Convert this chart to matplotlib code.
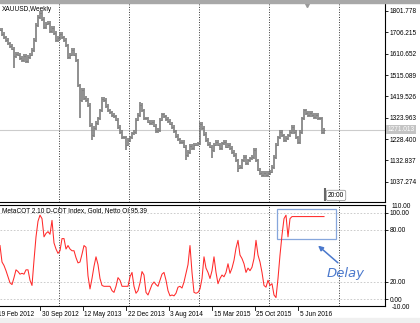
import numpy as np
import matplotlib
matplotlib.use('Agg')
import matplotlib.pyplot as plt
import matplotlib.transforms as mtransforms
from matplotlib.patches import Rectangle

# weekly XAUUSD closes, one sample every 2 chart pixels
close = [1717, 1699, 1685, 1672, 1658, 1645, 1632, 1600, 1609, 1605,
         1591, 1582, 1600, 1578, 1596, 1605, 1627, 1672, 1739, 1775,
         1793, 1766, 1730, 1744, 1748, 1712, 1726, 1703, 1672, 1681,
         1699, 1685, 1672, 1649, 1596, 1605, 1627, 1605, 1582, 1470,
         1403, 1448, 1412, 1403, 1381, 1291, 1246, 1278, 1300, 1322,
         1358, 1408, 1403, 1376, 1358, 1349, 1336, 1331, 1314, 1282,
         1260, 1237, 1237, 1202, 1224, 1237, 1255, 1260, 1314, 1336,
         1381, 1358, 1322, 1322, 1305, 1300, 1305, 1287, 1264, 1269,
         1314, 1340, 1331, 1318, 1309, 1296, 1282, 1264, 1242, 1228,
         1215, 1215, 1193, 1157, 1170, 1197, 1188, 1202, 1202, 1210,
         1296, 1278, 1251, 1224, 1206, 1193, 1179, 1202, 1215, 1202,
         1188, 1210, 1215, 1193, 1202, 1188, 1170, 1157, 1134, 1099,
         1103, 1134, 1148, 1121, 1134, 1143, 1148, 1179, 1134, 1090,
         1076, 1067, 1076, 1067, 1076, 1081, 1103, 1148, 1202, 1237,
         1260, 1246, 1224, 1233, 1246, 1260, 1282, 1260, 1237, 1215,
         1260, 1322, 1358, 1345, 1336, 1345, 1336, 1327, 1336, 1322,
         1322, 1260, 1269]
# long wicks (sample index, extreme price)
spike_idx = [7, 40, 46, 63, 70, 93, 106, 119]
spike_val = [1546, 1322, 1224, 1179, 1395, 1134, 1143, 1081]

# MetaCOT D-COT index, same sampling
cot = [62, 43, 39, 33, 26, 19, 17, 25, 34, 32,
       29, 30, 29, 34, 34, 22, 16, 45, 72, 90,
       97, 93, 72, 76, 78, 75, 91, 65, 58, 53,
       56, 70, 70, 58, 62, 58, 56, 56, 48, 42,
       43, 52, 62, 60, 27, 12, 24, 38, 49, 40,
       24, 16, 15, 15, 15, 15, 10, 8, 15, 25,
       22, 15, 15, 15, 15, 26, 31, 15, 7, 10,
       19, 32, 28, 8, 5, 11, 17, 20, 17, 15,
       22, 29, 31, 22, 10, 4, 5, 4, 7, 14,
       15, 13, 20, 30, 40, 62, 31, 8, 7, 8,
       12, 24, 49, 36, 31, 24, 33, 49, 31, 18,
       24, 28, 26, 31, 41, 30, 36, 45, 59, 68,
       51, 47, 41, 31, 36, 33, 37, 47, 68, 51,
       43, 31, 16, 14, 22, 16, 18, 5, 2, 24,
       51, 74, 93, 97, 72, 93] + [95.39] * 17

price_ticks = [1801.778, 1706.215, 1610.652, 1515.089, 1419.526,
               1323.963, 1228.400, 1132.837, 1037.274]
last_price = 1271.013
cot_levels = [100, 80, 20, 0]
date_labels = ['19 Feb 2012', '30 Sep 2012', '12 May 2013', '22 Dec 2013',
               '3 Aug 2014', '15 Mar 2015', '25 Oct 2015', '5 Jun 2016']
date_pos = [-3, 40, 83, 126, 169, 212, 255, 298]
grid_pos = [59, 129, 199, 269, 339]

plt.rcParams['font.family'] = ['Liberation Sans', 'DejaVu Sans']
fs = 4.7

fig = plt.figure(figsize=(4.2, 3.23), dpi=100)
fig.patches.append(Rectangle((0, 1 - 3 / 323), 1, 3 / 323, transform=fig.transFigure,
                             color='#a8a8a8', zorder=0))
fig.patches.append(Rectangle((0, 0), 1, 5 / 323, transform=fig.transFigure,
                             color='#f0f0f0', zorder=0))

ax1 = fig.add_axes([0, 121 / 323, 385 / 420, 199 / 323])
ax2 = fig.add_axes([0, 17 / 323, 385 / 420, 101.5 / 323])

x = np.arange(len(close)) * 2
c = np.array(close, dtype=float)
o = np.concatenate([[c[0]], c[:-1]])
lo = np.minimum(o, c) - 7
hi = np.maximum(o, c) + 7
for i, v in zip(spike_idx, spike_val):
    lo[i] = min(lo[i], v)
    hi[i] = max(hi[i], v)
ax1.vlines(x, lo, hi, color='#727272', lw=1.1, zorder=3)
ax1.hlines(c, x, x + 1.2, color='#727272', lw=0.7, zorder=3)

ax1.axhline(last_price, color='#cccccc', lw=0.8, zorder=1)
for g in grid_pos:
    ax1.axvline(g, color='#333333', lw=0.7, ls=(0, (1, 1.6)), zorder=2)
    ax2.axvline(g, color='#333333', lw=0.7, ls=(0, (1, 1.6)), zorder=2)

ax1.set_xlim(0, 385)
ax1.set_ylim(946.3, 1837.6)
ax1.yaxis.tick_right()
ax1.set_yticks(price_ticks)
ax1.set_yticklabels(['%.3f' % p for p in price_ticks])
ax1.set_xticks([])
ax1.tick_params(axis='y', labelsize=fs, length=2.5, width=0.6, pad=1)
ax1.spines['left'].set_visible(False)
ax1.spines['top'].set_visible(False)

tr1 = mtransforms.blended_transform_factory(ax1.transAxes, ax1.transData)
ax1.text(1.006, last_price, '%.3f' % last_price, transform=tr1, fontsize=fs,
         color='white', va='center', ha='left',
         bbox=dict(boxstyle='square,pad=0.2', fc='#c4c4c4', ec='none'))
ax1.text(0.004, 0.985, 'XAUUSD,Weekly', transform=ax1.transAxes, fontsize=fs,
         va='top', ha='left')
ax1.text(336, 976, '20:00', fontsize=fs, ha='center', va='center', zorder=5,
         bbox=dict(boxstyle='round,pad=0.25', fc='white', ec='#888888', lw=0.5))
ax1.plot([325, 325], [950, 1010], color='#666666', lw=1.5, solid_capstyle='butt', zorder=6)
ax1.plot(307, 1829, marker='v', color='#999999', ms=3, clip_on=False)

# D-COT panel
ax2.plot(x, cot, color='#ff2a2a', lw=0.75, zorder=4)
for lv in cot_levels:
    ax2.axhline(lv, color='#c4c4c4', lw=0.6, ls=(0, (2, 2)), zorder=1)
ax2.set_xlim(0, 385)
ax2.set_ylim(-7.7, 109.3)
ax2.yaxis.tick_right()
ax2.set_yticks(cot_levels)
ax2.set_yticklabels(['%.2f' % v for v in cot_levels])
ax2.tick_params(axis='y', labelsize=fs, length=2.5, width=0.6, pad=1)
ax2.set_xticks([])
ax2.spines['left'].set_visible(False)

tr2 = mtransforms.blended_transform_factory(ax2.transAxes, ax2.transData)
ax2.text(1.018, 106.8, '110.00', transform=tr2, fontsize=fs, va='center', ha='left')
ax2.text(1.018, -9.8, '-10.00', transform=tr2, fontsize=fs, va='center', ha='left')
ax2.text(0.004, 0.975, 'MetaCOT 2.10 D-COT Index, Gold, Netto OI 95.39',
         transform=ax2.transAxes, fontsize=fs, va='top', ha='left')

trx = mtransforms.blended_transform_factory(ax2.transData, ax2.transAxes)
for xp, lab in zip(date_pos, date_labels):
    ax2.plot([xp, xp], [0, -0.04], transform=trx, color='black', lw=0.6, clip_on=False)
    ax2.text(xp + 1.5, -0.045, lab, transform=trx, fontsize=fs, ha='left', va='top',
             clip_on=False)

ax2.add_patch(Rectangle((277, 69.5), 59, 34.5, fill=False, ec='#86a6dc', lw=0.9, zorder=3))
ax2.annotate('', xy=(316, 64), xytext=(340, 40),
             arrowprops=dict(arrowstyle='-|>', color='#4a78cc', lw=1.1, mutation_scale=7))
ax2.text(346, 30, 'Delay', fontsize=9.5, style='italic', color='#4a78cc',
         ha='center', va='center', family='DejaVu Sans')

fig.savefig('out.png', dpi=100)
